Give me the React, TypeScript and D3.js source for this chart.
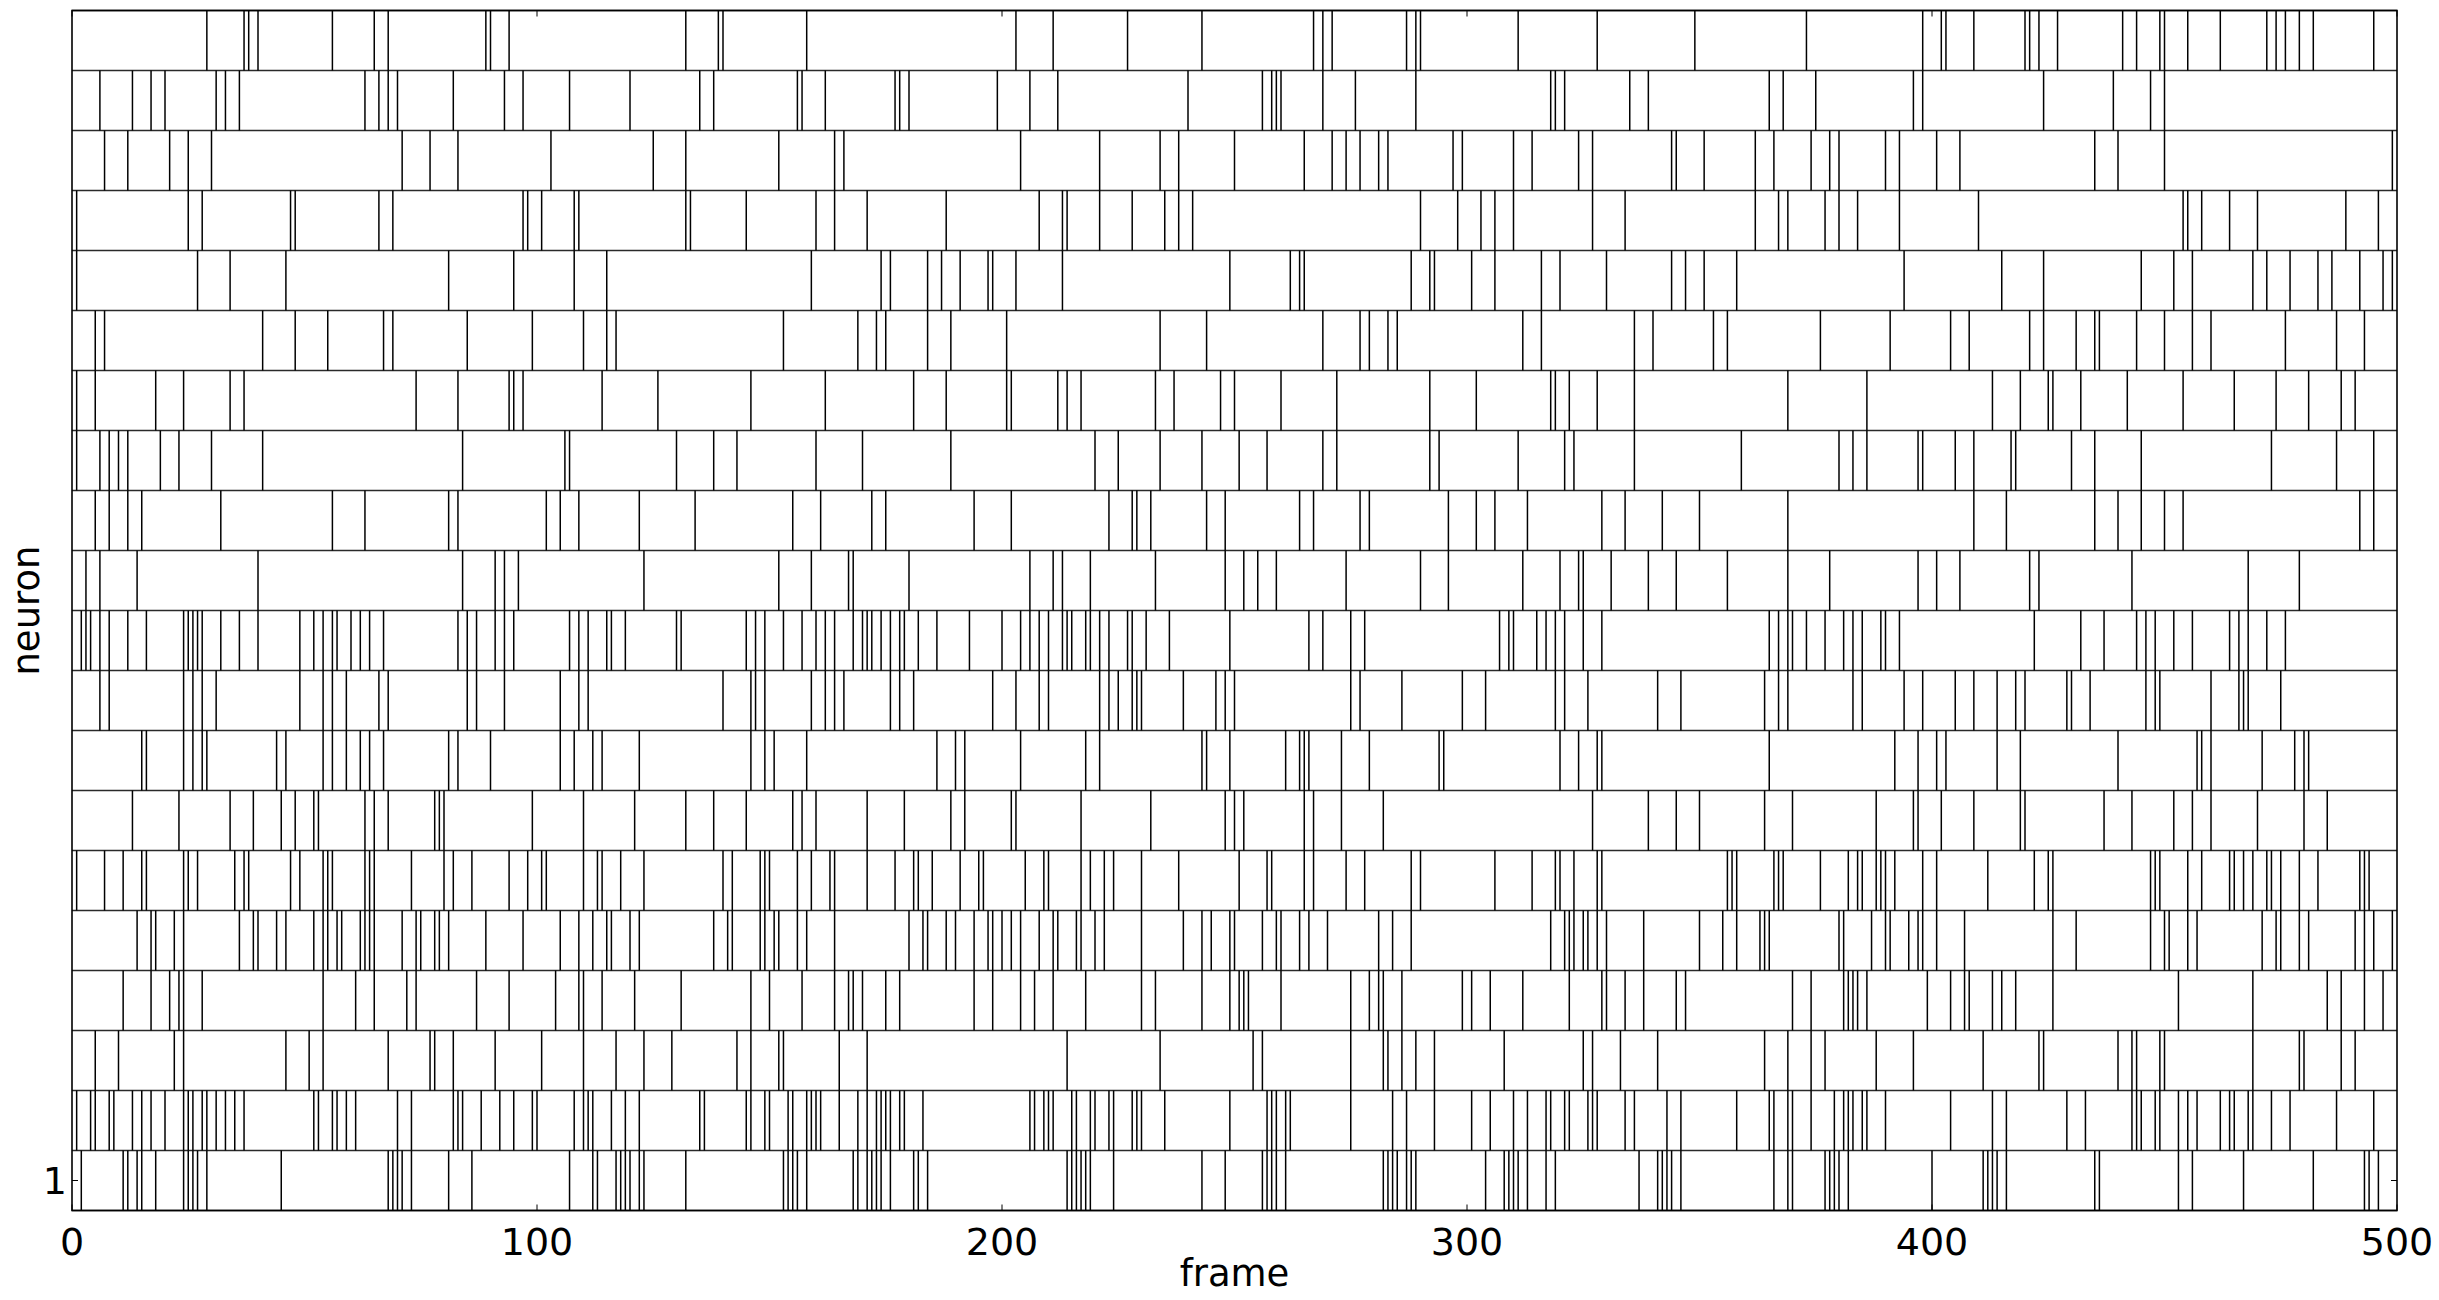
import React from "react";
import * as d3 from "d3";

// spike frames per neuron (neuron 1 = bottom row)
const neuron1 = [2,11,12,14,15,18,24,25,26,27,29,45,68,69,70,71,73,81,86,107,112,113,117,118,119,120,122,123,132,153,154,155,156,158,168,169,171,172,173,174,176,181,182,184,214,215,216,217,218,219,224,243,248,256,257,258,259,261,282,283,284,285,287,288,289,304,308,309,310,311,313,317,319,337,341,342,343,344,346,366,369,370,377,378,379,380,382,400,411,412,413,414,416,435,436,453,456,467,482,493,494,496];
const neuron2 = [1,4,5,8,9,13,15,17,20,24,25,26,28,29,31,33,35,37,52,53,56,57,59,61,70,73,82,83,84,88,92,95,99,100,108,110,111,112,116,119,122,135,136,145,146,149,150,154,155,158,159,160,161,165,169,171,173,174,175,176,178,179,183,206,207,209,210,211,215,216,219,220,223,224,228,229,230,235,249,257,258,259,261,262,275,284,287,293,301,305,310,313,317,318,321,322,326,327,328,334,336,343,346,358,365,366,369,370,374,379,381,382,383,385,386,390,404,413,416,429,433,443,444,445,448,449,453,455,457,462,464,465,468,469,473,477,487,495];
const neuron3 = [5,10,22,24,46,51,54,68,77,78,82,91,101,110,117,123,129,143,146,152,153,165,171,214,234,254,256,275,282,283,286,289,293,308,325,327,333,341,364,369,374,377,388,396,411,423,424,440,443,444,449,450,469,479,480,488,491];
const neuron4 = [11,17,21,23,24,28,54,61,65,72,74,87,94,104,109,110,114,121,131,146,150,157,164,167,168,170,175,178,194,198,204,207,211,218,230,233,243,249,251,252,253,260,275,279,281,282,286,299,301,305,312,322,329,330,334,338,345,347,370,374,381,382,383,384,386,399,404,407,408,413,415,418,426,453,469,485,488,493,497];
const neuron5 = [14,17,18,22,24,36,39,40,44,46,52,54,55,57,58,62,63,64,65,71,74,75,78,79,81,89,97,105,109,112,115,116,120,122,138,141,142,148,149,151,152,156,158,164,180,183,184,188,190,194,197,198,200,202,204,208,211,212,216,217,220,222,230,239,243,245,249,250,256,259,260,264,266,270,281,284,288,318,321,322,323,325,326,328,330,338,350,355,358,363,364,365,380,381,387,390,391,395,397,398,401,407,426,431,447,450,451,455,457,471,474,475,479,481,491,493,495,499];
const neuron6 = [1,7,11,15,16,24,25,27,35,37,38,47,49,54,55,56,63,64,65,73,80,82,86,94,98,101,102,110,113,114,118,123,140,142,148,149,150,156,159,163,164,171,177,181,182,185,191,195,196,205,209,210,217,219,222,224,230,238,251,257,258,265,267,274,278,288,290,306,314,319,320,323,328,329,356,357,358,366,367,368,376,382,384,385,388,389,390,392,398,401,412,422,425,426,447,448,449,455,458,464,465,467,469,472,473,475,479,483,492,493,494];
const neuron7 = [13,23,34,39,45,48,52,53,63,65,68,78,79,80,99,110,121,132,138,145,155,157,160,171,179,189,192,202,203,217,232,248,250,252,265,267,273,282,327,339,345,350,364,370,388,396,397,402,409,419,420,437,443,452,456,460,470,480,485];
const neuron8 = [15,16,24,26,28,29,44,46,54,56,59,62,64,67,81,83,90,105,108,112,114,122,146,149,151,158,186,190,192,204,218,221,243,244,249,261,264,265,266,273,279,294,295,320,324,328,329,365,392,397,401,403,414,419,440,457,458,460,471,478,480,481];
const neuron9 = [6,8,24,26,28,31,49,54,56,59,66,68,85,87,93,105,109,111,140,146,147,149,159,162,164,166,176,178,181,198,203,208,210,221,223,225,228,229,230,239,246,248,250,275,277,286,299,304,319,321,326,341,346,364,367,369,383,385,394,398,405,409,414,418,420,429,430,434,446,448,449,460,466,467,468,475];
const neuron10 = [2,3,4,6,8,12,16,24,25,26,27,28,32,36,40,49,52,54,56,57,60,62,64,67,83,85,87,91,93,95,107,109,111,115,116,119,130,131,145,147,149,153,157,160,162,164,168,170,171,172,174,176,178,179,182,186,193,200,204,206,208,210,213,214,215,218,219,221,223,227,228,231,236,249,266,269,275,278,307,309,310,315,317,319,321,325,329,365,367,369,370,373,377,381,383,385,389,390,393,422,432,437,444,446,448,452,456,464,466,468,472,476];
const neuron11 = [3,6,14,40,84,91,93,96,123,152,159,167,168,180,206,211,213,219,233,248,252,255,259,274,290,296,312,320,324,325,331,339,345,356,369,378,397,401,406,421,423,443,468,479];
const neuron12 = [5,8,12,15,32,56,63,81,83,102,105,109,122,134,155,161,172,175,194,202,223,228,229,232,244,248,264,267,277,279,296,302,306,313,329,334,342,350,369,409,416,435,440,445,450,454,492,495];
const neuron13 = [1,6,8,10,12,19,23,30,41,84,106,107,130,138,143,160,170,189,220,225,234,243,251,257,269,272,292,294,311,321,323,336,359,380,383,386,397,398,405,409,417,418,430,435,445,473,487,495];
const neuron14 = [1,5,18,24,34,37,74,83,94,95,97,114,126,146,162,181,188,201,202,212,214,217,233,237,247,250,260,272,292,302,318,319,322,328,336,369,386,413,419,425,426,432,442,454,465,474,481,488,491];
const neuron15 = [5,7,41,48,55,67,69,85,99,110,115,117,153,169,173,175,184,189,201,234,244,269,277,279,283,285,312,316,336,340,353,356,376,391,404,408,421,424,431,435,436,444,450,456,460,476,487,493];
const neuron16 = [1,27,34,46,81,95,108,115,159,174,176,184,187,191,197,198,203,213,249,262,264,265,288,292,293,301,306,316,320,330,344,347,351,358,394,415,424,445,452,456,469,472,477,483,486,492,497,499];
const neuron17 = [1,25,28,47,48,66,69,97,98,101,108,109,132,133,145,160,164,171,188,208,213,214,221,228,235,238,241,290,298,303,306,310,327,334,362,367,369,377,380,384,393,410,454,455,458,464,470,489,496];
const neuron18 = [7,12,21,25,30,71,77,83,103,125,132,152,164,166,204,221,234,238,250,265,271,274,277,281,283,297,299,310,314,324,327,344,345,351,362,366,374,378,380,390,393,401,406,435,440,450,499];
const neuron19 = [6,13,17,20,31,33,36,63,66,68,70,82,93,97,107,120,135,138,156,157,162,177,178,180,199,206,212,240,256,258,259,260,269,276,289,318,319,321,335,339,365,368,375,396,398,424,439,447,450];
const neuron20 = [29,37,38,40,56,65,68,89,90,94,132,139,140,158,203,211,227,243,267,269,271,287,289,290,311,328,349,373,398,402,403,409,420,421,423,427,441,444,449,450,455,462,472,474,476,479,482,495];

const spikeTrains = [neuron1, neuron2, neuron3, neuron4, neuron5, neuron6, neuron7, neuron8, neuron9, neuron10,
  neuron11, neuron12, neuron13, neuron14, neuron15, neuron16, neuron17, neuron18, neuron19, neuron20];

const xTicks = [0, 100, 200, 300, 400, 500];
const yTicks = [1];
const xLabel = "frame";
const yLabel = "neuron";

const W = 2439;
const H = 1300;
const margin = { left: 72, right: 42, top: 10.5, bottom: 89.5 };

export default function App() {
  const x = d3.scaleLinear().domain([0, 500]).range([margin.left, W - margin.right]);
  const n = spikeTrains.length;
  const y = d3.scaleLinear().domain([0.5, n + 0.5]).range([H - margin.bottom, margin.top]);
  const boundaries = d3.range(0, n + 1).map((i) => i + 0.5);
  const font = "'DejaVu Sans', sans-serif";
  const tickLen = 6;
  const x0 = x(0), x1 = x(500), yTop = y(n + 0.5), yBot = y(0.5);

  return (
    <svg width={W} height={H} style={{ position: "absolute", left: 0, top: 0, background: "#fff" }}>
      <rect x={0} y={0} width={W} height={H} fill="#fff" />
      {/* row separators */}
      {boundaries.map((b) => (
        <line key={"b" + b} x1={x0} x2={x1} y1={y(b)} y2={y(b)} stroke="#2a2a2a" strokeWidth={1.3} />
      ))}
      {/* spikes */}
      {spikeTrains.map((train, i) =>
        train.map((f, j) => (
          <line key={i + "-" + j} x1={x(f)} x2={x(f)} y1={y(i + 1 - 0.5)} y2={y(i + 1 + 0.5)} stroke="#000" strokeWidth={1.5} />
        ))
      )}
      {/* frame */}
      <rect x={x0} y={yTop} width={x1 - x0} height={yBot - yTop} fill="none" stroke="#000" strokeWidth={1.6} />
      {/* x ticks */}
      {xTicks.map((t) => (
        <g key={"xt" + t}>
          <line x1={x(t)} x2={x(t)} y1={yBot} y2={yBot - tickLen} stroke="#000" strokeWidth={1} />
          <line x1={x(t)} x2={x(t)} y1={yTop} y2={yTop + tickLen} stroke="#000" strokeWidth={1} />
          <text x={x(t)} y={1255} textAnchor="middle" fontFamily={font} fontSize={38} fill="#000">{t}</text>
        </g>
      ))}
      {/* y ticks */}
      {yTicks.map((t) => (
        <g key={"yt" + t}>
          <line x1={x0} x2={x0 + tickLen} y1={y(t)} y2={y(t)} stroke="#000" strokeWidth={1} />
          <line x1={x1} x2={x1 - tickLen} y1={y(t)} y2={y(t)} stroke="#000" strokeWidth={1} />
          <text x={x0 - 5} y={y(t)} dy="0.36em" textAnchor="end" fontFamily={font} fontSize={38} fill="#000">{t}</text>
        </g>
      ))}
      <text x={(x0 + x1) / 2} y={1286} textAnchor="middle" fontFamily={font} fontSize={37} fill="#000">{xLabel}</text>
      <text transform={`translate(39, ${(yTop + yBot) / 2}) rotate(-90)`} textAnchor="middle" fontFamily={font} fontSize={37} fill="#000">{yLabel}</text>
    </svg>
  );
}
